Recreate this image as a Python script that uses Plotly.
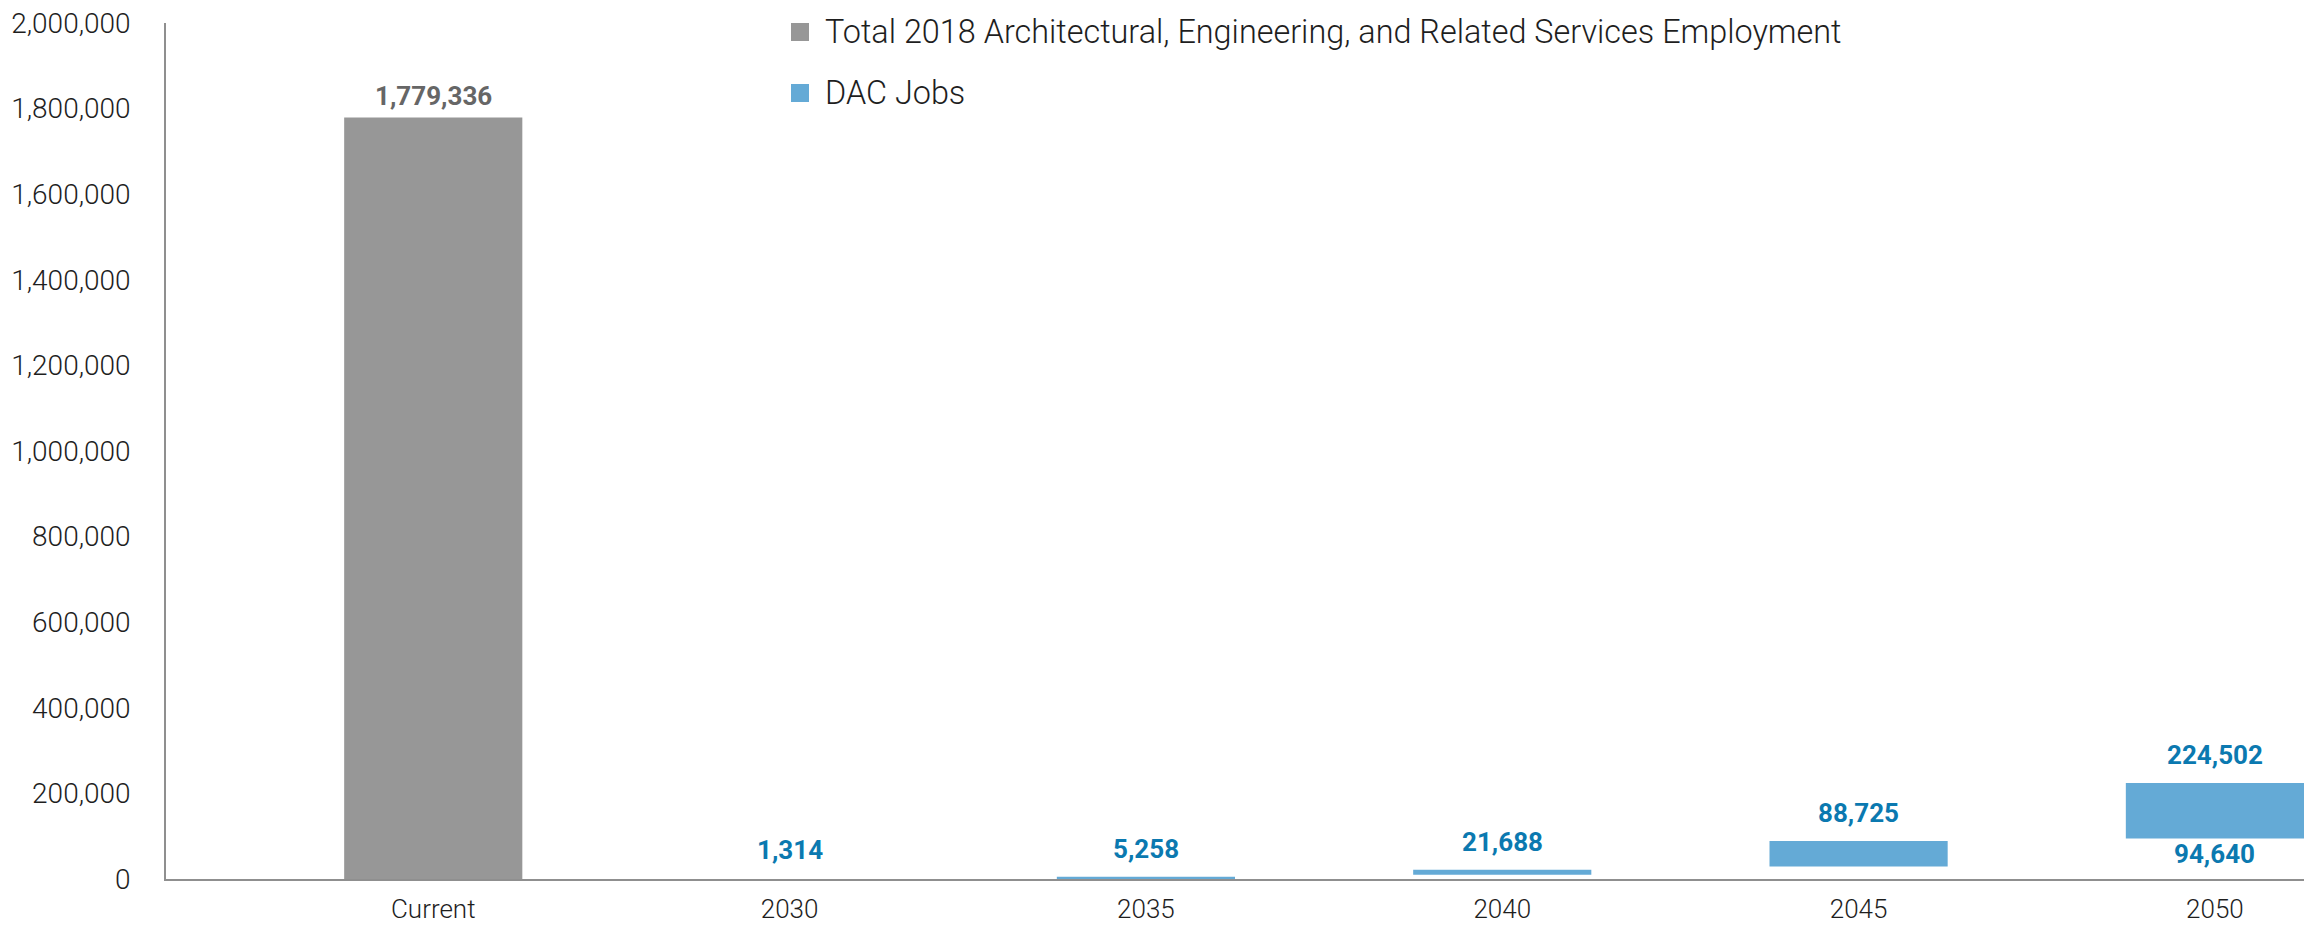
import plotly.graph_objects as go

# ---- data -------------------------------------------------------------
categories = ["Current", "2030", "2035", "2040", "2045", "2050"]
current_total = 1779336            # Total 2018 A&E and related services employment
dac_years = ["2030", "2035", "2040", "2045", "2050"]
dac_low = [1314, 1314, 10000, 29400, 94640]     # lower end of DAC jobs range
dac_high = [1314, 5258, 21688, 88725, 224502]   # upper end of DAC jobs range
low_label_years = ["2050"]                       # years where the lower bound is labelled
y_ticks = [0, 200000, 400000, 600000, 800000, 1000000,
           1200000, 1400000, 1600000, 1800000, 2000000]

# ---- style ------------------------------------------------------------
GRAY = "#979797"
BLUE = "#64aad6"
BLUE_TXT = "#0b79b0"
GRAY_TXT = "#666666"
AXIS = "#8f8f8f"
TXT = "#1e1e1e"
FONT = "Roboto"

W, H = 2315, 926
M_L, M_R, M_T, M_B = 166, 11, 23, 47

xpos = {c: i for i, c in enumerate(categories)}

fig = go.Figure()

fig.add_trace(go.Bar(
    x=[xpos["Current"]], y=[current_total], width=0.5,
    marker=dict(color=GRAY, line=dict(width=0)),
    name="Total 2018 Architectural, Engineering, and Related Services Employment",
    showlegend=False, hoverinfo="skip",
))

fig.add_trace(go.Bar(
    x=[xpos[y] for y in dac_years],
    base=dac_low,
    y=[h - l for h, l in zip(dac_high, dac_low)],
    width=0.5,
    marker=dict(color=BLUE, line=dict(width=0)),
    name="DAC Jobs", showlegend=False, hoverinfo="skip",
))

# value labels
fig.add_annotation(x=xpos["Current"], y=current_total, text=f"{current_total:,}",
                   showarrow=False, yanchor="middle", yshift=21,
                   font=dict(family=FONT, size=26, color=GRAY_TXT, weight="bold"))
for yr, hi, lo in zip(dac_years, dac_high, dac_low):
    fig.add_annotation(x=xpos[yr], y=hi, text=f"{hi:,}", showarrow=False,
                       yanchor="middle", yshift=28,
                       font=dict(family=FONT, size=26, color=BLUE_TXT, weight="bold"))
    if yr in low_label_years:
        fig.add_annotation(x=xpos[yr], y=lo, text=f"{lo:,}", showarrow=False,
                           yanchor="middle", yshift=-16,
                           font=dict(family=FONT, size=26, color=BLUE_TXT, weight="bold"))

# legend drawn in paper space
pw = W - M_L - M_R
ph = H - M_T - M_B


def px_x(p):
    return (p - M_L) / pw


def px_y(p):
    return 1 - (p - M_T) / ph


legend_items = [
    ("Total 2018 Architectural, Engineering, and Related Services Employment", GRAY, 32),
    ("DAC Jobs", BLUE, 93),
]
for label, color, cy in legend_items:
    fig.add_shape(type="rect", xref="paper", yref="paper",
                  x0=px_x(791), x1=px_x(809), y0=px_y(cy + 9), y1=px_y(cy - 9),
                  fillcolor=color, line=dict(width=0))
    fig.add_annotation(xref="paper", yref="paper", x=px_x(823), y=px_y(cy),
                       xanchor="left", yanchor="middle", text=label, showarrow=False,
                       font=dict(family=FONT, size=32.4, color=TXT, weight=300))

fig.update_layout(
    width=W, height=H,
    margin=dict(l=M_L, r=M_R, t=M_T, b=M_B, pad=0),
    paper_bgcolor="white", plot_bgcolor="white",
    barmode="overlay", showlegend=False,
    font=dict(family=FONT, size=28, color=TXT, weight=300),
    xaxis=dict(
        range=[-0.75, 5.25], tickmode="array",
        tickvals=list(range(len(categories))), ticktext=categories,
        showgrid=False, zeroline=False, showline=True, automargin=False,
        linecolor=AXIS, linewidth=2, ticks="", ticklabelstandoff=6,
        tickfont=dict(family=FONT, size=26, color=TXT, weight=300),
    ),
    yaxis=dict(
        range=[0, 2000000], tickmode="array", tickvals=y_ticks,
        ticktext=[f"{v:,}" for v in y_ticks],
        showgrid=False, zeroline=False, showline=True, automargin=False,
        linecolor=AXIS, linewidth=1.5, ticks="", ticklabelstandoff=28,
        tickfont=dict(family=FONT, size=28, color=TXT, weight=300),
    ),
)

fig.write_html("out.html")
